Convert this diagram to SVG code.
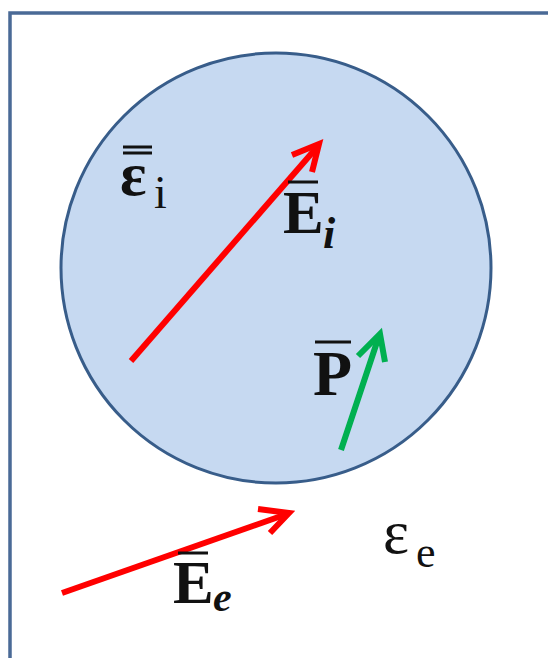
<svg xmlns="http://www.w3.org/2000/svg" width="548" height="658" viewBox="0 0 548 658">
<style>
.bold{font-family:"Liberation Serif","Times New Roman",serif;font-weight:bold;fill:#111;}
.reg{font-family:"Liberation Serif","Times New Roman",serif;fill:#111;}
.bar{stroke:#111;stroke-width:3;}
.red{stroke:#ff0000;stroke-width:6;fill:none;stroke-linecap:butt;stroke-linejoin:miter;}
.green{stroke:#00b050;stroke-width:6;fill:none;stroke-linejoin:miter;}
</style>
<rect x="0" y="0" width="548" height="658" fill="#ffffff"/>
<rect id="frame" x="10" y="13" width="560" height="670" fill="#ffffff" stroke="#4a6a96" stroke-width="3.5"/>
<g id="sphere">
<circle cx="276" cy="268" r="215" fill="#c6d9f1" stroke="#385d8a" stroke-width="3"/>
</g>
<g id="connectors">
<line class="red" x1="131" y1="361" x2="318" y2="146"/>
<polyline class="red" points="292,155 319,144 312,172"/>
<line class="red" x1="62" y1="593" x2="287" y2="514"/>
<polyline class="red" points="258,509 289,513 270,533"/>
<line class="green" x1="341" y1="450" x2="379" y2="336"/>
<polyline class="green" points="358,356 380,334 385,362"/>
</g>
<g id="label-eps-i">
<text class="bold" x="120" y="195" font-size="62">ε</text>
<text class="reg" x="154" y="208" font-size="46">i</text>
<line class="bar" x1="123" y1="147" x2="152" y2="147"/>
<line class="bar" x1="123" y1="153" x2="152" y2="153"/>
</g>
<g id="label-Ei">
<text class="bold" x="283" y="233" font-size="61">E</text>
<text class="bold" x="323" y="248" font-size="44" font-style="italic">i</text>
<line class="bar" x1="288" y1="182" x2="318" y2="182"/>
</g>
<g id="label-P">
<text class="bold" x="313" y="395" font-size="64">P</text>
<line class="bar" x1="315" y1="342" x2="351" y2="342"/>
</g>
<g id="label-Ee">
<text class="bold" x="173" y="603" font-size="61">E</text>
<text class="bold" x="213" y="611" font-size="42" font-style="italic">e</text>
<line class="bar" x1="178" y1="553" x2="208" y2="553"/>
</g>
<g id="label-eps-e">
<text class="reg" x="383" y="553" font-size="62">ε</text>
<text class="reg" x="416" y="567" font-size="44">e</text>
</g>
</svg>
